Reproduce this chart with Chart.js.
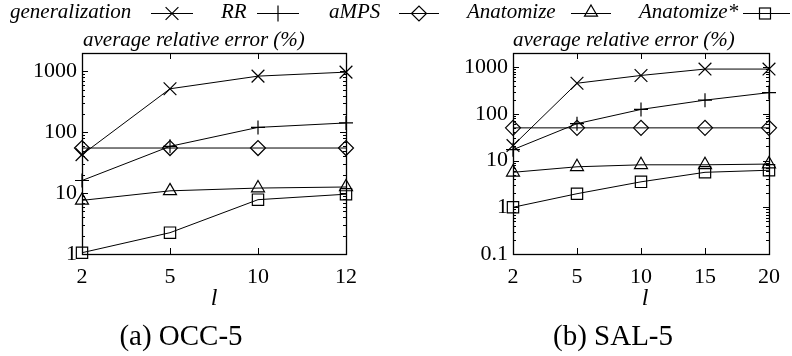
<!DOCTYPE html>
<html>
<head>
<meta charset="utf-8">
<script src="https://cdn.jsdelivr.net/npm/chart.js@4/dist/chart.umd.min.js"></script>
<style>
html,body{margin:0;padding:0;background:#fff;width:792px;height:356px;overflow:hidden;}
#wrap{position:relative;width:792px;height:356px;}
canvas{position:absolute;top:0;}
.t{position:absolute;font-family:'Liberation Serif','Times New Roman',serif;color:#000;line-height:1;white-space:nowrap;}
.it{font-style:italic;}
.c{transform:translateX(-50%);}
svg.sym{position:absolute;top:0;overflow:visible;}
</style>
</head>
<body>
<div id="wrap">
<canvas id="c1" width="396" height="356" style="left:0"></canvas>
<canvas id="c2" width="396" height="356" style="left:396px"></canvas>

<!-- legend -->
<div class="t it" style="left:10px;top:1px;font-size:21px">generalization</div>
<svg class="sym" style="left:151px" width="42" height="28"><line x1="0" y1="13.5" x2="42" y2="13.5" stroke="#000" stroke-width="1.2"/><path d="M14.6 7.1 L27.4 19.9 M14.6 19.9 L27.4 7.1" stroke="#000" stroke-width="1.2" fill="none"/></svg>
<div class="t it" style="left:221px;top:1px;font-size:21px">RR</div>
<svg class="sym" style="left:257px" width="42" height="28"><line x1="0" y1="13.5" x2="42" y2="13.5" stroke="#000" stroke-width="1.2"/><path d="M21 5.5 L21 21.5" stroke="#000" stroke-width="1.2" fill="none"/></svg>
<div class="t it" style="left:329px;top:1px;font-size:21px">aMPS</div>
<svg class="sym" style="left:399px" width="40" height="28"><line x1="0" y1="13.5" x2="40" y2="13.5" stroke="#000" stroke-width="1.2"/><path d="M12.5 13.5 L20 6 L27.5 13.5 L20 21 Z" stroke="#000" stroke-width="1.2" fill="none"/></svg>
<div class="t it" style="left:467px;top:1px;font-size:21px">Anatomize</div>
<svg class="sym" style="left:571px" width="40" height="28"><line x1="0" y1="13.5" x2="40" y2="13.5" stroke="#000" stroke-width="1.2"/><path d="M20 5 L26.5 16.2 L13.5 16.2 Z" stroke="#000" stroke-width="1.2" fill="none"/></svg>
<div class="t it" style="left:639px;top:1px;font-size:21px">Anatomize*</div>
<svg class="sym" style="left:743px" width="47" height="28"><line x1="0" y1="13.5" x2="47" y2="13.5" stroke="#000" stroke-width="1.2"/><rect x="16.5" y="8" width="11" height="11" stroke="#000" stroke-width="1.2" fill="none"/></svg>

<!-- axis titles -->
<div class="t it" style="left:83px;top:29px;font-size:21px">average relative error (%)</div>
<div class="t it" style="left:513px;top:29px;font-size:21px">average relative error (%)</div>
<div class="t it c" style="left:214px;top:285px;font-size:24px">l</div>
<div class="t it c" style="left:645px;top:285px;font-size:24px">l</div>
<div class="t c" style="left:181px;top:321px;font-size:29px">(a) OCC-5</div>
<div class="t c" style="left:613px;top:321px;font-size:29px">(b) SAL-5</div>
</div>

<script>
// ---------- data ----------
const seriesNames = ['generalization', 'RR', 'aMPS', 'Anatomize', 'Anatomize*'];

const occLabels = ['2', '5', '10', '12'];
const occGeneralization = [42.8, 517, 834, 970];
const occRR = [16.1, 58.6, 120, 142];
const occAMPS = [55, 55, 55, 55];
const occAnatomize = [7.6, 10.9, 12.1, 12.6];
const occAnatomizeStar = [1.05, 2.24, 7.8, 9.6];
const occYTicks = [1, 10, 100, 1000];
const occYMin = 1, occYMax = 2000;

const salLabels = ['2', '5', '10', '15', '20'];
const salGeneralization = [20.9, 451, 662, 906, 906];
const salRR = [17.1, 61.5, 124, 196, 284];
const salAMPS = [50, 50, 50, 50, 50];
const salAnatomize = [5.6, 7.35, 8.1, 8.1, 8.4];
const salAnatomizeStar = [1.0, 1.95, 3.5, 5.6, 6.2];
const salYTicks = [0.1, 1, 10, 100, 1000];
const salYMin = 0.1, salYMax = 2000;

// ---------- styling ----------
const FONT = "'Liberation Serif','Times New Roman',serif";
Chart.defaults.font.family = FONT;
Chart.defaults.color = '#000';

const pointStyles = ['crossRot', 'cross', 'rectRot', 'triangle', 'rect'];
const pointRadii = [9, 7, 7.5, 7.5, 8];

const frame = {
  id: 'frame',
  beforeDatasetsDraw(chart) {
    const {ctx, chartArea: a, scales: {x, y}} = chart;
    ctx.save();
    ctx.strokeStyle = '#000';
    ctx.lineWidth = 1;
    ctx.beginPath();
    x.ticks.forEach((t, i) => {
      const px = Math.round(x.getPixelForTick(i)) + 0.5;
      ctx.moveTo(px, a.bottom); ctx.lineTo(px, a.bottom - 6);
      ctx.moveTo(px, a.top); ctx.lineTo(px, a.top + 6);
    });
    const e0 = Math.floor(Math.log10(y.min)), e1 = Math.ceil(Math.log10(y.max));
    for (let e = e0; e <= e1; e++) {
      for (let m = 1; m <= 9; m++) {
        const v = m * Math.pow(10, e);
        if (v <= y.min * 1.0001 || v >= y.max * 0.9999) continue;
        const py = Math.round(y.getPixelForValue(v)) + 0.5;
        const len = m === 1 ? 6 : 3;
        ctx.moveTo(a.left, py); ctx.lineTo(a.left + len, py);
        ctx.moveTo(a.right, py); ctx.lineTo(a.right - len, py);
      }
    }
    ctx.stroke();
    ctx.lineWidth = 1.3;
    ctx.strokeRect(Math.round(a.left) + 0.5, Math.round(a.top) + 0.5,
      Math.round(a.right - a.left), Math.round(a.bottom - a.top));
    ctx.restore();
  }
};

function makeChart(id, labels, series, yTicks, yMin, yMax, yWidth, padRight) {
  const datasets = series.map((d, i) => ({
    label: seriesNames[i],
    data: d,
    borderColor: '#000',
    borderWidth: 1,
    pointStyle: pointStyles[i],
    pointRadius: pointRadii[i],
    pointBorderWidth: 1.2,
    pointBorderColor: '#000',
    pointBackgroundColor: 'rgba(0,0,0,0)',
    tension: 0,
    fill: false,
    clip: false
  }));
  return new Chart(document.getElementById(id), {
    type: 'line',
    data: {labels, datasets},
    options: {
      responsive: false,
      animation: false,
      devicePixelRatio: 1,
      layout: {padding: {left: 0, right: padRight, top: 53, bottom: 62}},
      plugins: {legend: {display: false}, tooltip: {enabled: false}},
      scales: {
        x: {
          type: 'category',
          offset: false,
          grid: {display: false, drawTicks: false},
          border: {display: false},
          ticks: {font: {size: 22, family: FONT, lineHeight: 1}, color: '#000', padding: 12, maxRotation: 0, autoSkip: false},
          afterFit: s => { s.height = 40; }
        },
        y: {
          type: 'logarithmic',
          min: yMin,
          max: yMax,
          grid: {display: false, drawTicks: false},
          border: {display: false},
          ticks: {font: {size: 22, family: FONT}, color: '#000', padding: 5, autoSkip: false,
            callback: v => String(v)},
          afterBuildTicks: s => { s.ticks = yTicks.map(v => ({value: v})); },
          afterFit: s => { s.width = yWidth; }
        }
      }
    },
    plugins: [frame]
  });
}

makeChart('c1', occLabels,
  [occGeneralization, occRR, occAMPS, occAnatomize, occAnatomizeStar],
  occYTicks, occYMin, occYMax, 82, 50);
makeChart('c2', salLabels,
  [salGeneralization, salRR, salAMPS, salAnatomize, salAnatomizeStar],
  salYTicks, salYMin, salYMax, 117, 14);
</script>
</body>
</html>
